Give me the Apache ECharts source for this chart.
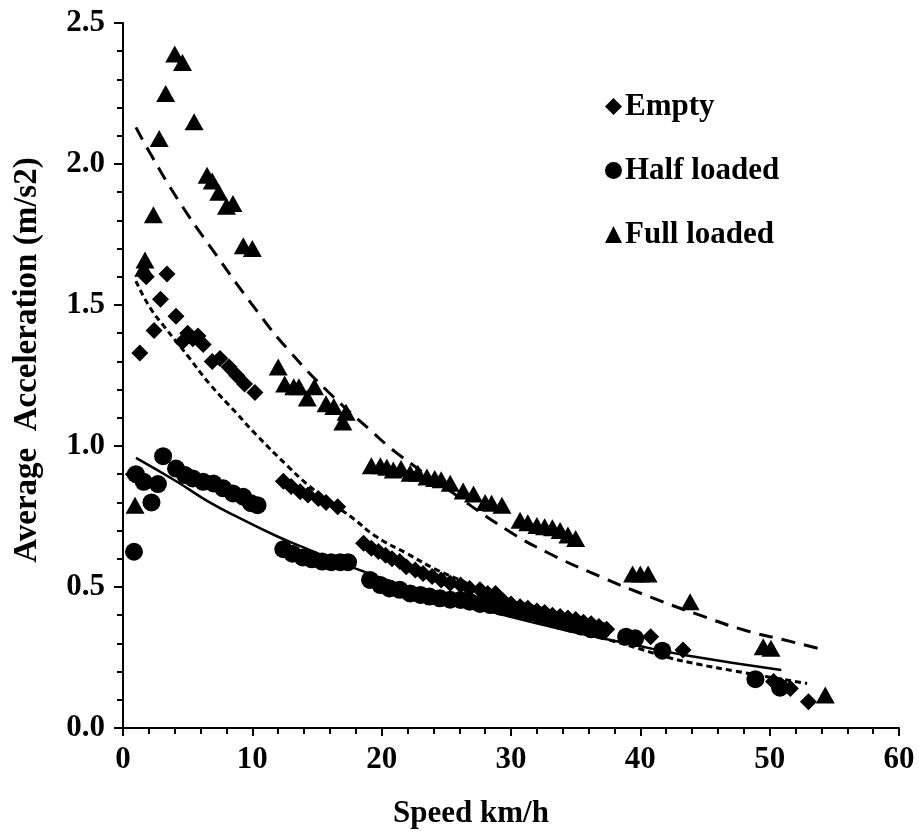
<!DOCTYPE html>
<html>
<head>
<meta charset="utf-8">
<script src="https://cdn.jsdelivr.net/npm/echarts@6/dist/echarts.min.js"></script>
<style>
html,body{margin:0;padding:0;background:#fff;}
#chart{width:919px;height:835px;}
</style>
</head>
<body>
<div id="chart"></div>
<script>
// ---- data ----
const xTickLabels = ['0','10','20','30','40','50','60'];
const yTickLabels = ['0.0','0.5','1.0','1.5','2.0','2.5'];
const seriesNames = ['Empty','Half loaded','Full loaded'];

const emptyPts = [
  [0.8,0.90],[1.3,1.33],[1.8,1.60],[2.4,1.41],[2.9,1.52],[3.4,1.61],[4.1,1.46],[4.6,1.37],[5.0,1.40],
  [5.4,1.38],[5.8,1.39],[6.2,1.36],[6.9,1.30],[7.5,1.31],[8.2,1.28],[8.8,1.25],[9.4,1.22],[10.2,1.19],
  [12.4,0.875],[13.0,0.856],[13.7,0.838],[14.3,0.826],[15.1,0.814],[15.7,0.80],[16.6,0.785],
  [18.6,0.655],[19.2,0.637],[19.75,0.626],[20.3,0.613],[20.8,0.60],[21.4,0.59],[21.9,0.572],[22.6,0.56],
  [23.2,0.548],[23.9,0.537],[24.6,0.525],[25.3,0.513],[26.1,0.507],[26.8,0.495],[27.6,0.49],[28.2,0.477],[28.8,0.477],
  [29.4,0.45],[30.0,0.44],[30.7,0.43],[31.3,0.425],[32.0,0.415],[32.6,0.41],[33.2,0.40],[33.8,0.395],
  [34.4,0.39],[35.0,0.385],[35.6,0.375],[36.2,0.37],[36.8,0.36],[37.4,0.35],
  [40.8,0.324],[43.3,0.277],[50.3,0.165],[50.9,0.15],[51.6,0.14],[53.0,0.093]
];
const halfPts = [
  [0.85,0.625],[1.0,0.90],[1.6,0.873],[2.2,0.80],[2.7,0.865],[3.1,0.964],[4.1,0.92],[4.8,0.897],[5.4,0.885],
  [6.2,0.873],[7.0,0.867],[7.75,0.85],[8.5,0.832],[9.3,0.82],[9.9,0.797],[10.4,0.79],
  [12.4,0.634],[13.1,0.618],[13.9,0.605],[14.6,0.598],[15.4,0.59],[16.1,0.588],[16.8,0.588],[17.4,0.588],
  [19.1,0.525],[19.9,0.507],[20.6,0.495],[21.4,0.49],[22.2,0.477],[23.0,0.472],[23.7,0.466],[24.5,0.46],
  [25.3,0.455],[26.1,0.454],[26.8,0.448],[27.6,0.44],[28.4,0.436],[29.2,0.43],[29.9,0.424],[30.7,0.418],
  [31.4,0.41],[32.2,0.40],[33.0,0.39],[33.8,0.38],[34.6,0.37],[35.4,0.36],[36.2,0.35],[37.0,0.345],
  [38.9,0.324],[39.6,0.318],[41.7,0.274],[48.9,0.173],[50.8,0.143]
];
const fullPts = [
  [0.93,0.79],[1.6,1.63],[1.7,1.66],[2.35,1.82],[2.8,2.09],[3.3,2.25],[4.0,2.39],[4.6,2.36],[5.5,2.15],
  [6.5,1.96],[6.9,1.94],[7.4,1.90],[8.0,1.85],[8.5,1.86],[9.3,1.71],[10.0,1.70],
  [12.0,1.28],[12.5,1.22],[13.2,1.21],[13.6,1.21],[14.25,1.17],[14.8,1.21],[15.7,1.15],[16.3,1.14],[17.0,1.085],[17.25,1.12],
  [19.2,0.93],[19.9,0.93],[20.4,0.925],[20.9,0.915],[21.5,0.92],[22.2,0.903],[22.8,0.903],[23.5,0.89],
  [24.1,0.885],[24.6,0.88],[25.3,0.868],[26.3,0.84],[27.1,0.83],[28.0,0.80],[28.5,0.797],[29.3,0.79],
  [30.7,0.737],[31.3,0.728],[32.0,0.718],[32.6,0.714],[33.2,0.71],[33.8,0.70],[34.4,0.684],[35.0,0.672],
  [39.4,0.546],[40.0,0.546],[40.6,0.546],[43.85,0.448],[49.5,0.288],[50.1,0.283],[54.3,0.117]
];
// trend lines, read as points along each curve
const emptyFit = [
  [1.0,1.585],[2.1,1.49],[3.25,1.42],[4.3,1.36],[5.0,1.32],[6.7,1.22],[8.8,1.115],[10.3,1.04],[12.7,0.93],
  [14.2,0.866],[15.75,0.809],[17.6,0.75],[19.6,0.678],[21.9,0.62],[24.3,0.56],[26.6,0.513],[28.9,0.454],
  [32.0,0.40],[36.0,0.335],[40.0,0.28],[42.0,0.252],[44.6,0.225],[47.2,0.203],[49.8,0.182],[52.9,0.158]
];
const halfFit = [
  [1.0,0.958],[4.15,0.874],[6.7,0.80],[9.3,0.738],[11.9,0.68],[14.5,0.63],[18.0,0.565],[22.0,0.50],
  [25.0,0.457],[29.2,0.403],[34.3,0.346],[39.4,0.296],[43.6,0.257],[50.9,0.206]
];
const fullFit = [
  [1.0,2.13],[2.2,2.03],[4.3,1.87],[6.7,1.71],[10.4,1.476],[12.9,1.335],[16.0,1.186],[19.1,1.057],
  [21.2,0.974],[25.0,0.85],[29.7,0.702],[33.0,0.618],[36.9,0.537],[40.8,0.464],[44.6,0.40],[48.2,0.345],
  [51.0,0.314],[54.2,0.277]
];

const FONT = "'Liberation Serif','Times New Roman',serif";
const chart = echarts.init(document.getElementById('chart'), null, {renderer:'canvas'});

function axisCommon(){
  return {
    axisLine:{show:true,onZero:false,lineStyle:{color:'#000',width:2}},
    splitLine:{show:false},
    minorSplitLine:{show:false},
    axisLabel:{color:'#000',fontFamily:FONT,fontWeight:'bold',fontSize:31}
  };
}

const option = {
  backgroundColor:'#fff',
  animation:false,
  grid:{left:123,right:20,top:23,bottom:107,containLabel:false},
  legend:{
    data:seriesNames.map(n=>({name:n})),
    orient:'vertical',
    left:600, top:86,
    itemWidth:17, itemHeight:17, itemGap:33,
    textStyle:{color:'#000',fontFamily:FONT,fontWeight:'bold',fontSize:31,padding:[0,0,0,-2]},
    inactiveColor:'#000'
  },
  xAxis:Object.assign(axisCommon(),{
    type:'value',min:0,max:60,interval:10,
    axisTick:{show:true,inside:false,length:8,lineStyle:{color:'#000',width:2}},
    minorTick:{show:true,splitNumber:5,length:6,lineStyle:{color:'#000',width:2}},
  }),
  yAxis:Object.assign(axisCommon(),{
    type:'value',min:0,max:2.5,interval:0.5,
    axisTick:{show:true,inside:false,length:9,lineStyle:{color:'#000',width:2}},
    minorTick:{show:true,splitNumber:5,length:6,lineStyle:{color:'#000',width:2}},
  }),
  series:[
    {name:'Empty',type:'scatter',symbol:'diamond',symbolSize:[17,17],data:emptyPts,itemStyle:{color:'#000',opacity:1},z:3},
    {name:'Half loaded',type:'scatter',symbol:'circle',symbolSize:18,data:halfPts,itemStyle:{color:'#000',opacity:1},z:3},
    {name:'Full loaded',type:'scatter',symbol:'triangle',symbolSize:[19,17],data:fullPts,itemStyle:{color:'#000',opacity:1},z:3},
    {name:'fitEmpty',type:'line',data:emptyFit,smooth:true,showSymbol:false,symbol:'none',
      lineStyle:{color:'#000',width:3,type:[6,4]},z:4,silent:true},
    {name:'fitHalf',type:'line',data:halfFit,smooth:true,showSymbol:false,symbol:'none',
      lineStyle:{color:'#000',width:2.5,type:'solid'},z:4,silent:true},
    {name:'fitFull',type:'line',data:fullFit,smooth:true,showSymbol:false,symbol:'none',
      lineStyle:{color:'#000',width:3,type:[14,9]},z:4,silent:true}
  ]
};
option.yAxis.axisLabel.formatter = v => yTickLabels[Math.round(v/0.5)];
option.yAxis.axisLabel.margin = 18;
option.xAxis.axisLabel.margin = 16;
option.xAxis.axisLabel.formatter = v => xTickLabels[Math.round(v/10)];
option.graphic = [
  {type:'text',x:471,y:814,style:{text:'Speed km/h',fill:'#000',font:"bold 31px "+FONT,align:'center',verticalAlign:'middle'}},
  {type:'text',x:27,y:360,rotation:Math.PI/2,style:{text:'Average  Acceleration (m/s2)',fill:'#000',font:"bold 33px "+FONT,align:'center',verticalAlign:'middle'}}
];
chart.setOption(option);
</script>
</body>
</html>
